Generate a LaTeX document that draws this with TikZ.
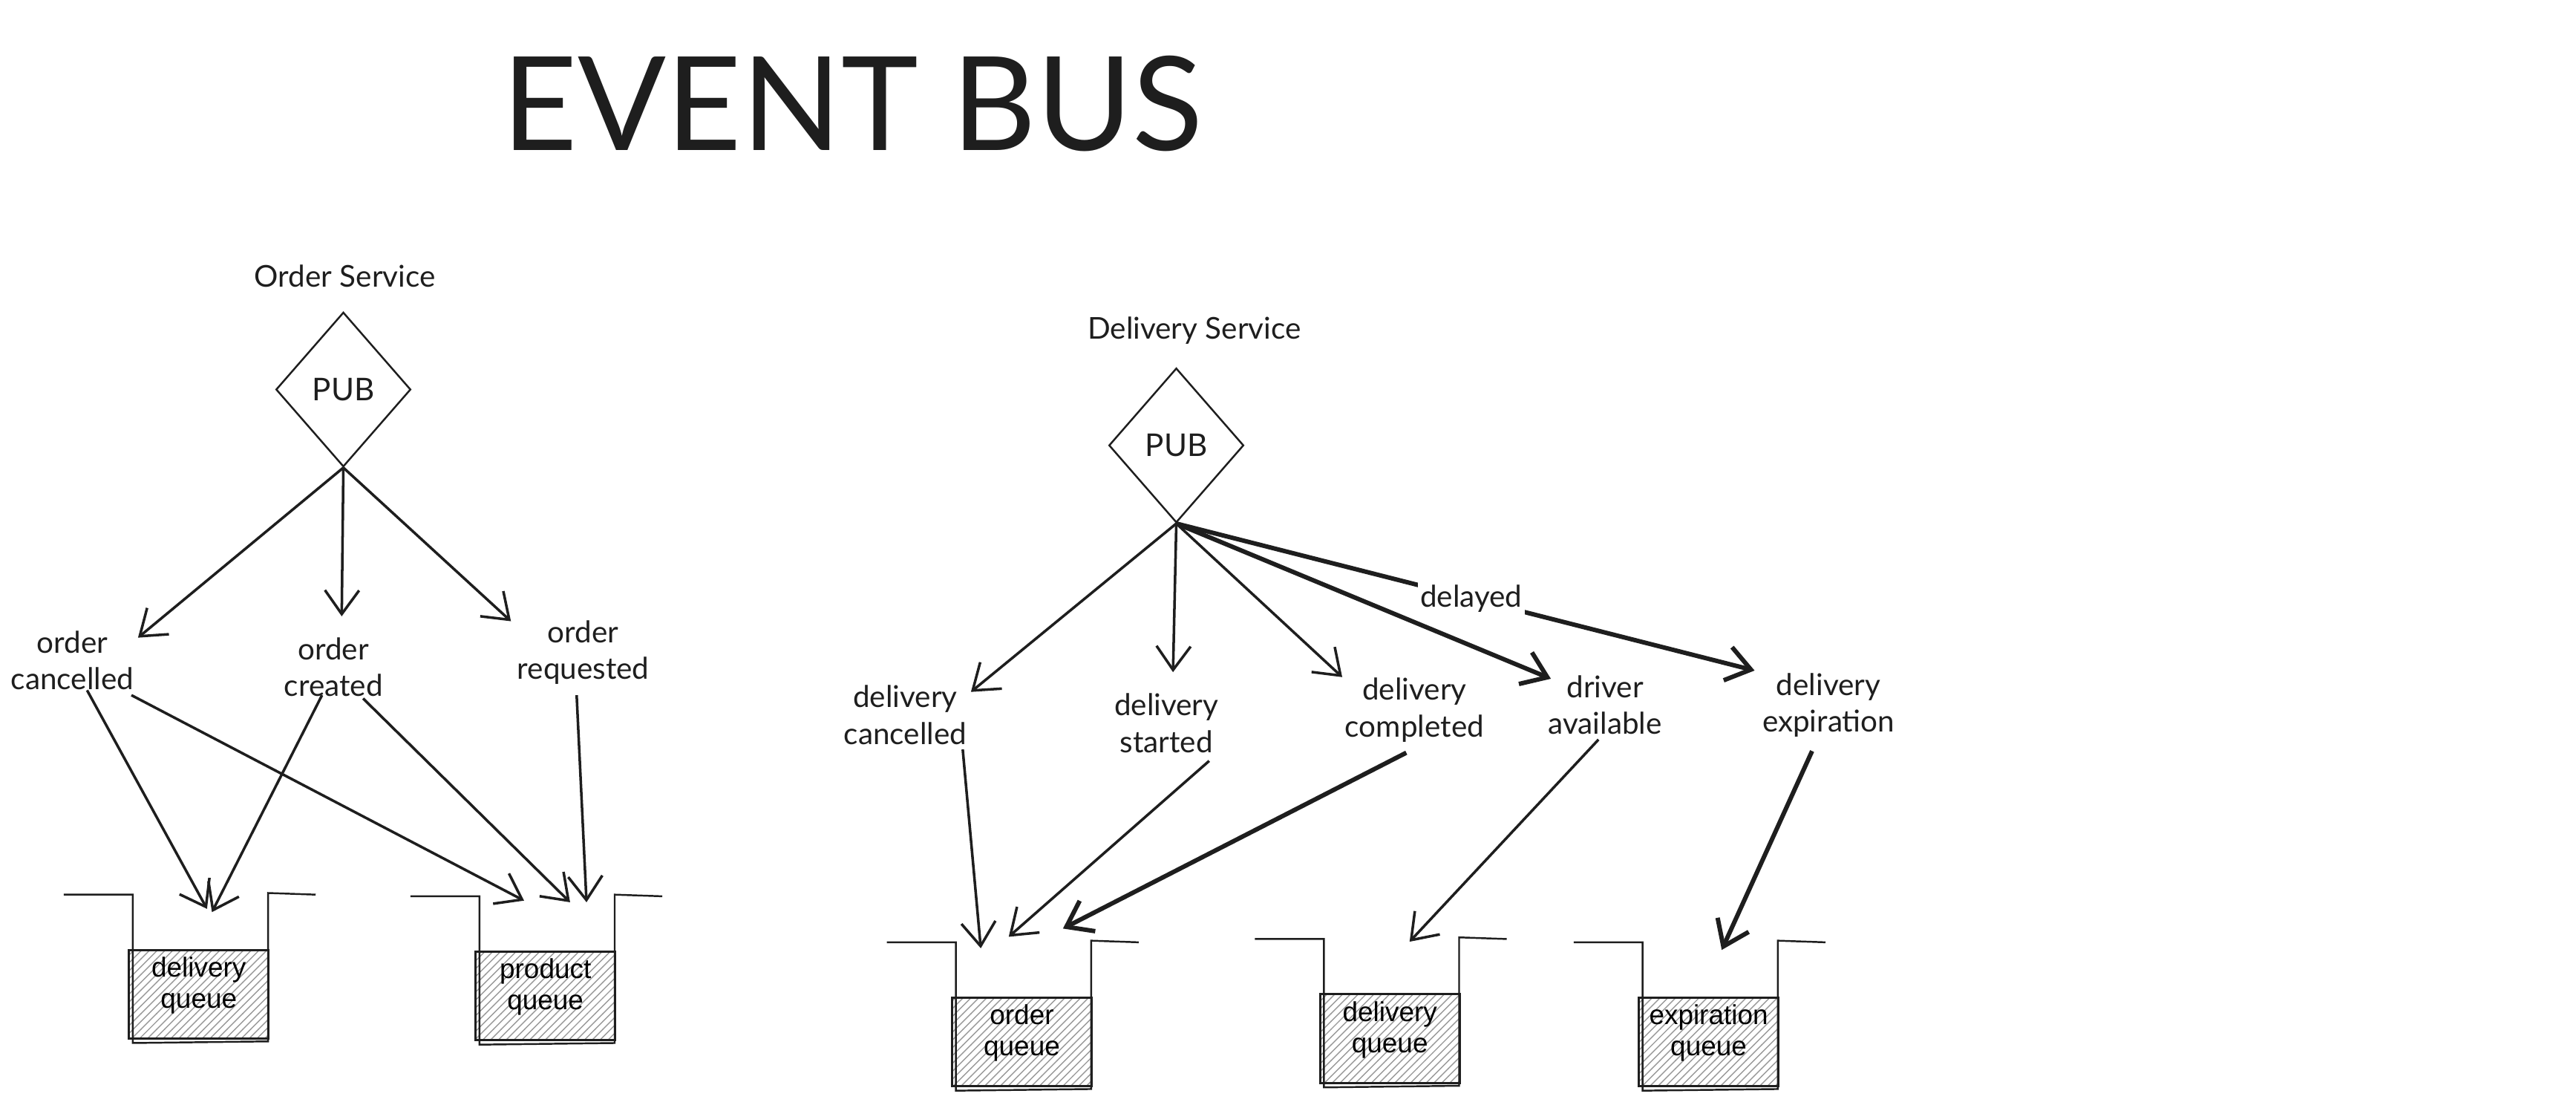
\documentclass[tikz,border=0pt]{standalone}
\usepackage{fontspec}
\setmainfont{Lato}
\newfontfamily\boxfont{Liberation Sans}
\usetikzlibrary{arrows.meta,shapes.geometric,patterns,calc}

\definecolor{ink}{HTML}{1E1E1E}

\tikzset{
  lbl/.style={align=center, text=ink, inner sep=1pt, font=\fontsize{11.5}{14}\selectfont},
  pub/.style={diamond, draw=ink, line width=0.7pt, minimum width=1.815cm, minimum height=2.08cm, inner sep=0pt, text=ink, font=\fontsize{12}{14}\selectfont},
  qbox/.style={draw=ink, line width=0.8pt, pattern=north east lines, pattern color=gray!80, minimum width=1.881cm, minimum height=1.195cm, inner sep=0pt, align=center, font=\boxfont\fontsize{10.5}{12}\selectfont},
  flow/.style={draw=ink, line width=1pt, -{Straight Barb[length=3.2mm, width=4.6mm]}},
  heavy/.style={flow, line width=1.7pt},
}

% open-topped bucket round a queue box
\newcommand{\qwalls}[1]{%
  \draw[ink, line width=0.7pt] ($(#1.north west)+(-39,-33)$) -- ($(#1.north west)+(3,-33)$)
    -- ($(#1.south west)+(3,2)$) -- ($(#1.south east)+(-1,1)$)
    -- ($(#1.north east)+(-1,-34)$) -- ($(#1.north east)+(28,-33)$);}

\begin{document}
\begin{tikzpicture}[x=0.02213cm, y=-0.02213cm]
  \useasboundingbox (0,0) rectangle (1568,674);

  \node[text=ink, font=\fontsize{50}{50}\selectfont] (title) at (519,63) {EVENT BUS};

  % order service
  \node[lbl] (osvc) at (210,168) {Order Service};
  \node[pub] (pub1) at (209,237) {PUB};
  \node[lbl] (ocan) at (44,402) {order\\cancelled};
  \node[lbl] (ocre) at (203,406) {order\\created};
  \node[lbl] (oreq) at (355,397) {order\\requested};
  \node[qbox] (dq1) at (121,605) {delivery\\queue\\[-3pt]};
  \node[qbox] (pq) at (332,606) {product\\queue\\[-3pt]};
  \qwalls{dq1}
  \qwalls{pq}

  \draw[flow] (pub1.south) -- ($(ocan)+(40,-14)$);
  \draw[flow] (pub1.south) -- ($(ocre)+(5,-31)$);
  \draw[flow] (pub1.south) -- ($(oreq)+(-44,-19)$);
  \draw[flow] ($(ocan)+(9,18)$) -- ($(dq1)+(5,-52)$);
  \draw[flow] ($(ocan)+(36,21)$) -- ($(pq)+(-13,-58)$);
  \draw[flow] ($(ocre)+(-7,17)$) -- ($(dq1)+(8,-50)$);
  \draw[flow] ($(ocre)+(18,19)$) -- ($(pq)+(15,-57)$);
  \draw[flow] ($(oreq)+(-4,26)$) -- ($(pq)+(25,-57)$);

  % delivery service
  \node[lbl] (dsvc) at (727,201) {Delivery Service};
  \node[pub] (pub2) at (716,271) {PUB};
  \node[lbl] (dcan) at (551,435) {delivery\\cancelled};
  \node[lbl] (dsta) at (710,440) {delivery\\started};
  \node[lbl] (dcom) at (861,432) {delivery\\completed};
  \node[lbl] (davl) at (977,429) {driver\\available};
  \node[lbl] (dexp) at (1113,429) {delivery\\expiration};
  \node[qbox] (oq) at (622,634) {order\\queue\\[-3pt]};
  \node[qbox] (dq2) at (846,632) {delivery\\queue\\[-3pt]};
  \node[qbox] (eq) at (1040,634) {expiration\\queue\\[-3pt]};
  \qwalls{oq}
  \qwalls{dq2}
  \qwalls{eq}

  \draw[flow] (pub2.south) -- ($(dcan)+(40,-14)$);
  \draw[flow] (pub2.south) -- ($(dsta)+(4,-31)$);
  \draw[flow] (pub2.south) -- ($(dcom)+(-44,-20)$);
  \draw[heavy] (pub2.south) -- ($(davl)+(-33,-16)$);
  \draw[heavy] (pub2.south) -- node[lbl, pos=0.51, fill=white] (dly) {delayed} ($(dexp)+(-45,-21)$);
  \draw[flow] ($(dcan)+(35,21)$) -- ($(oq)+(-25,-57)$);
  \draw[flow] ($(dsta)+(26,23)$) -- ($(oq)+(-8,-64)$);
  \draw[heavy] ($(dcom)+(-5,26)$) -- ($(oq)+(25,-69)$);
  \draw[flow] ($(davl)+(-4,21)$) -- ($(dq2)+(12,-59)$);
  \draw[heavy] ($(dexp)+(-10,28)$) -- ($(eq)+(8,-56)$);
\end{tikzpicture}
\end{document}
